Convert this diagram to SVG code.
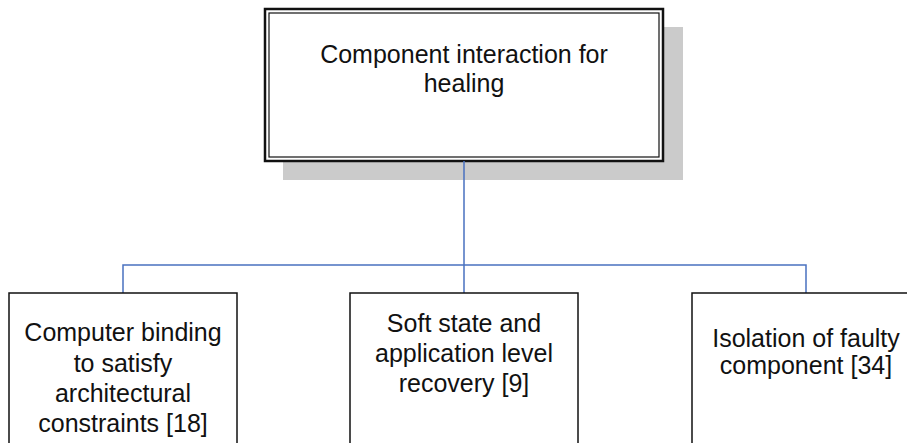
<svg xmlns="http://www.w3.org/2000/svg" width="907" height="443" viewBox="0 0 907 443">
<style>
text{font-family:"Liberation Sans",Arial,sans-serif;font-size:25px;fill:#111;text-anchor:middle}
.box{fill:#fff;stroke:#111;stroke-width:1.5}
.conn{fill:none;stroke:#4a72c0;stroke-width:1.5}
</style>
<rect width="907" height="443" fill="#fff"/>
<g id="root">
<rect x="283" y="27" width="400" height="153" fill="#cbcbcb"/>
<rect x="265" y="9" width="398" height="152" fill="#fff" stroke="#111" stroke-width="2.5"/>
<rect x="269" y="13" width="390" height="144" fill="none" stroke="#111" stroke-width="1.2"/>
<text x="464" y="63">Component interaction for</text>
<text x="464" y="92">healing</text>
</g>
<g id="connectors">
<path class="conn" d="M464 161V265M123 293V265H806V293M464 265V293"/>
</g>
<g id="n1">
<rect class="box" x="9" y="293" width="228" height="160"/>
<text x="123" y="341">Computer binding</text>
<text x="123" y="372">to satisfy</text>
<text x="123" y="402">architectural</text>
<text x="123" y="432">constraints [18]</text>
</g>
<g id="n2">
<rect class="box" x="350" y="293" width="228" height="160"/>
<text x="464" y="332">Soft state and</text>
<text x="464" y="362">application level</text>
<text x="464" y="392">recovery [9]</text>
</g>
<g id="n3">
<rect class="box" x="692" y="293" width="228" height="160"/>
<text x="806" y="347">Isolation of faulty</text>
<text x="806" y="374">component [34]</text>
</g>
</svg>
